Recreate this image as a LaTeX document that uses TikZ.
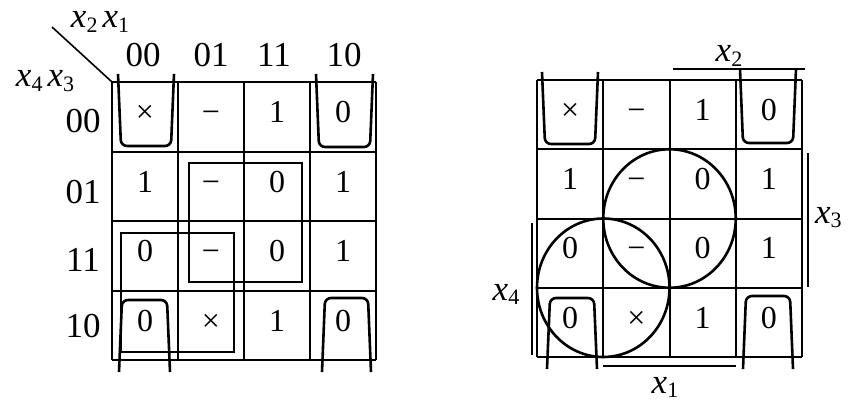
\documentclass[tikz,border=0pt]{standalone}
\usepackage{fontspec}
\setmainfont{Liberation Serif}
\newcommand\xv[1]{\textit{x}\raisebox{-0.28ex}{\fontsize{22}{22}\selectfont #1}}
\tikzset{
  gridline/.style={line width=2pt},
  loopline/.style={line width=2.6pt, rounded corners=6pt},
  ring/.style={line width=2.6pt},
  brk/.style={line width=1.6pt},
  rbox/.style={line width=1.8pt},
  cell/.style={font=\fontsize{32}{32}\selectfont, inner sep=0pt, anchor=base},
  hdr/.style={font=\fontsize{35}{35}\selectfont, inner sep=0pt, anchor=base},
  lab/.style={font=\fontsize{35}{35}\selectfont, inner sep=0pt, anchor=base}
}
\newcommand\ushape[4]{% x1 x2 yopen yclosed
  \draw[loopline] (#1,#3) -- ({#1+3},#4) -- ({#2-3},#4) -- (#2,#3);}
\begin{document}
\begin{tikzpicture}[x=1pt,y=-1pt]
\useasboundingbox (0,0) rectangle (848,401);
% ---------- left map ----------
\foreach \i in {0,...,4} {
  \draw[gridline] ({112+66*\i},82) -- ({112+66*\i},360);
  \draw[gridline] (112,{82+69.5*\i}) -- (376,{82+69.5*\i});
}
\foreach \r/\a/\b/\c/\d in {1/×/−/1/0, 2/1/−/0/1, 3/0/−/0/1, 4/0/×/1/0} {
  \node[cell] (L\r1) at (145,{122.5+69.5*(\r-1)}) {\a};
  \node[cell] (L\r2) at (211,{122.5+69.5*(\r-1)}) {\b};
  \node[cell] (L\r3) at (277,{122.5+69.5*(\r-1)}) {\c};
  \node[cell] (L\r4) at (343,{122.5+69.5*(\r-1)}) {\d};
}
\node[hdr] (h1) at (143,67) {00};
\node[hdr] (h2) at (211,67) {01};
\node[hdr] (h3) at (274,67) {11};
\node[hdr] (h4) at (344,67) {10};
\node[hdr] (v1) at (83,132) {00};
\node[hdr] (v2) at (83,203) {01};
\node[hdr] (v3) at (83,271) {11};
\node[hdr] (v4) at (83,337) {10};
\node[lab] (x21) at (100,28) {\xv{2}\hspace{5pt}\xv{1}};
\node[lab] (x43) at (45,87) {\xv{4}\hspace{5pt}\xv{3}};
\coordinate (dstart) at (52,27);
\coordinate (Lcorner) at (112,82);
\draw[brk] (dstart) -- (Lcorner);
% loops left
\ushape{118}{174}{74}{146}
\ushape{316}{373}{74}{147}
\ushape{119}{170}{372}{300}
\ushape{322}{371}{372}{298}
\draw[rbox] (189,163) rectangle (302,282);
\draw[rbox] (121,233) rectangle (234,352);
% ---------- right map ----------
\foreach \i in {0,...,4} {
  \draw[gridline] ({537+66.25*\i},80) -- ({537+66.25*\i},357);
  \draw[gridline] (537,{80+69.25*\i}) -- (802,{80+69.25*\i});
}
\foreach \r/\a/\b/\c/\d in {1/×/−/1/0, 2/1/−/0/1, 3/0/−/0/1, 4/0/×/1/0} {
  \node[cell] (R\r1) at (570.1,{120.3+69.25*(\r-1)}) {\a};
  \node[cell] (R\r2) at (636.4,{120.3+69.25*(\r-1)}) {\b};
  \node[cell] (R\r3) at (702.6,{120.3+69.25*(\r-1)}) {\c};
  \node[cell] (R\r4) at (768.9,{120.3+69.25*(\r-1)}) {\d};
}
\draw[ring] (669.5,218.5) ellipse [x radius=66.25pt, y radius=69.25pt];
\draw[ring] (603.25,287.75) ellipse [x radius=66.25pt, y radius=69.25pt];
\ushape{542}{598}{72}{144}
\ushape{740}{796}{69}{143}
\ushape{547}{597}{369}{298}
\ushape{743}{793}{369}{296}
% brackets
\coordinate (b2a) at (673,69); \coordinate (b2b) at (805,69);
\coordinate (b3a) at (808,153); \coordinate (b3b) at (808,287);
\coordinate (b4a) at (532,223); \coordinate (b4b) at (532,355);
\coordinate (b1a) at (603,366); \coordinate (b1b) at (736,366);
\draw[brk] (b2a) -- (b2b);
\draw[brk] (b3a) -- (b3b);
\draw[brk] (b4a) -- (b4b);
\draw[brk] (b1a) -- (b1b);
\node[lab] (lx2) at (729,62) {\xv{2}};
\node[lab, anchor=base west] (lx3) at (815,223) {\xv{3}};
\node[lab] (lx4) at (506,300) {\xv{4}};
\node[lab] (lx1) at (665,393) {\xv{1}};
\end{tikzpicture}
\end{document}
